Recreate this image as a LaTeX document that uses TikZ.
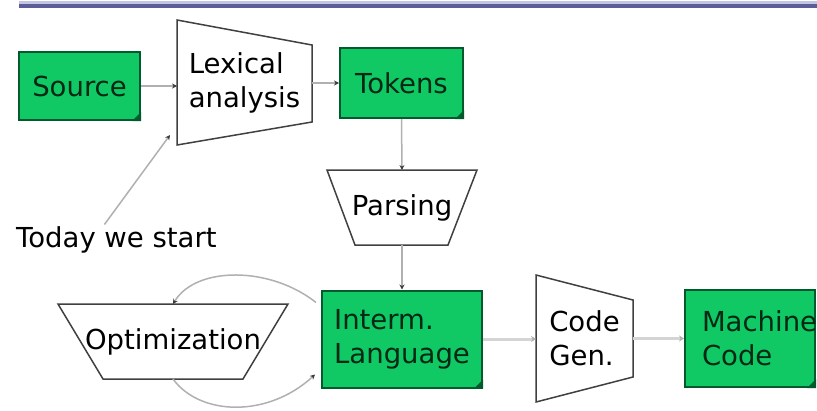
\documentclass[tikz,border=0pt]{standalone}
\usepackage{fontspec}
\newfontfamily\slidefont{DejaVu Sans}
\usepackage{tikz}
\usetikzlibrary{arrows.meta, positioning, calc}
\definecolor{boxgreen}{RGB}{16,200,100}
\definecolor{boxedge}{RGB}{0,90,45}
\definecolor{boxtext}{RGB}{0,40,20}
\definecolor{trapedge}{RGB}{64,64,64}
\definecolor{linkgray}{RGB}{176,176,176}
\definecolor{widegray}{RGB}{212,212,212}
\definecolor{tipgray}{RGB}{60,60,60}
\definecolor{bardark}{RGB}{92,92,150}
\definecolor{barlight}{RGB}{196,196,228}

\newcommand{\dogear}[1]{\fill[boxedge] ($(#1.south east)+(-9,0)$) -- ($(#1.south east)+(0,-9)$) -- (#1.south east) -- cycle;}

\begin{document}
\begin{tikzpicture}[x=1pt, y=-1pt,
  every node/.style={font=\slidefont\fontsize{27.5}{34}\selectfont},
  greenbox/.style={draw=boxedge, fill=boxgreen, line width=2pt, text=boxtext, inner sep=0pt},
  trapnode/.style={inner sep=0pt, outer sep=0pt, align=left},
  trapline/.style={draw=trapedge, line width=1.5pt, line join=miter},
  link/.style={draw=linkgray, line width=1.5pt, -{Stealth[length=5pt, width=5pt, color=tipgray]}},
  widelink/.style={draw=widegray, line width=3pt, -{Stealth[length=5pt, width=6pt, color=linkgray]}}]
  \useasboundingbox (0,0) rectangle (817,410);

  % header bar
  \fill[barlight] (19,1) rectangle (817,4);
  \fill[bardark] (19,4) rectangle (817,7.5);

  % green data boxes
  \node[greenbox, minimum width=121pt, minimum height=68pt] (src) at (79.5,86) {Source};
  \node[greenbox, minimum width=123pt, minimum height=70pt] (tok) at (401.5,83) {Tokens};
  \node[greenbox, minimum width=160pt, minimum height=97pt, align=left] (ir) at (402,339) {Interm.\\Language};
  \node[greenbox, minimum width=130pt, minimum height=97pt, text width=96pt, align=left] (mc) at (750,338.5) {Machine\\Code};
  \dogear{src}
  \dogear{tok}
  \dogear{ir}
  \dogear{mc}

  % phases
  \node[trapnode, minimum width=135pt, minimum height=125pt] (lex) at (244.5,82.5) {Lexical\\analysis};
  \draw[trapline] (lex.north west) -- ($(lex.north east)+(0,25)$) -- ($(lex.south east)+(0,-23)$) -- (lex.south west) -- cycle;
  \node[trapnode, minimum width=150pt, minimum height=75pt] (pars) at (402,207.5) {Parsing};
  \draw[trapline] (pars.north west) -- (pars.north east) -- ($(pars.south east)+(-29,0)$) -- ($(pars.south west)+(28,0)$) -- cycle;
  \node[trapnode, minimum width=230pt, minimum height=75pt] (opt) at (173,341.5) {Optimization};
  \draw[trapline] (opt.north west) -- (opt.north east) -- ($(opt.south east)+(-45,0)$) -- ($(opt.south west)+(45,0)$) -- cycle;
  \node[trapnode, minimum width=97pt, minimum height=127pt] (cg) at (584.5,338.5) {Code\\Gen.};
  \draw[trapline] (cg.north west) -- ($(cg.north east)+(0,25)$) -- ($(cg.south east)+(0,-25)$) -- (cg.south west) -- cycle;

  \node[anchor=west, inner sep=0pt] (today) at (16,240) {Today we start};

  % flow
  \draw[link] (src.east) -- (src.east -| lex.west);
  \draw[link] (lex.east |- tok.west) -- (tok.west);
  \draw[link] (tok.south) -- (pars.north);
  \draw[link] (pars.south) -- (ir.north);
  \draw[widelink] (ir.east) -- (ir.east -| cg.west);
  \draw[widelink] (cg.east |- mc.west) -- (mc.west);
  \draw[link] ($(today.north)+(-12,-2)$) -- ($(lex.south west)+(-7,-10)$);
  \draw[link] ($(ir.north west)+(-5,13)$) .. controls (270,266) and (196,266) .. (opt.north);
  \draw[link] (opt.south) .. controls (200,416) and (268,418) .. ($(ir.south west)+(-6,-14)$);
\end{tikzpicture}
\end{document}
